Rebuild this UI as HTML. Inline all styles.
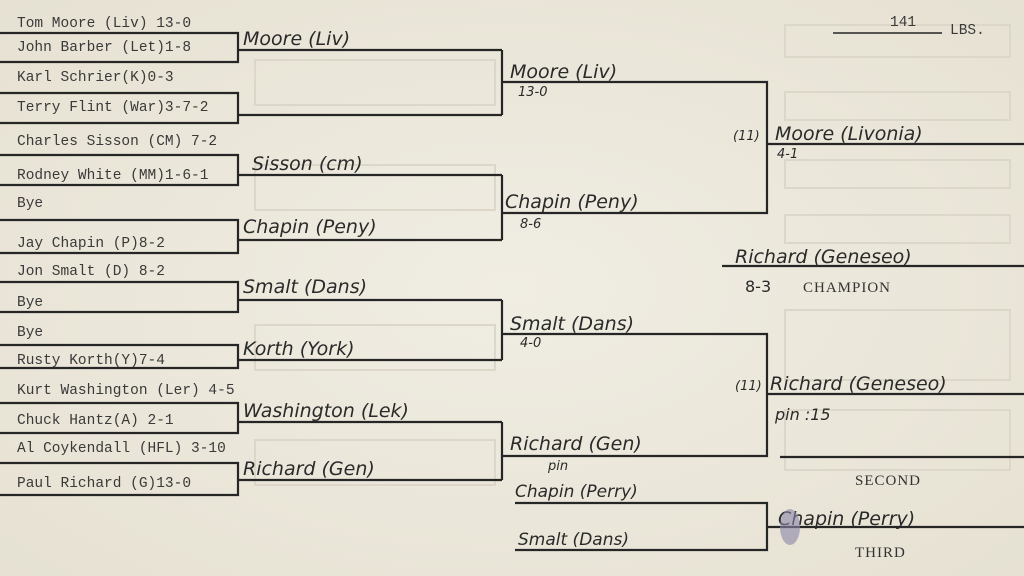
<!DOCTYPE html>
<html><head><meta charset="utf-8"><style>
body{margin:0;width:1024px;height:576px;overflow:hidden;background:#ebe7da;}
svg{position:absolute;left:0;top:0}
.t{font-family:"Liberation Mono",monospace;font-size:14.5px;fill:#3a3a3a}
.h{font-family:"DejaVu Sans",sans-serif;font-style:italic;font-size:19px;fill:#2a2a2a}
.s{font-family:"DejaVu Sans",sans-serif;font-style:italic;font-size:13px;fill:#2a2a2a}
.c{font-family:"Liberation Serif",serif;font-size:15px;fill:#333;letter-spacing:1px}
</style></head><body>
<svg width="1024" height="576" viewBox="0 0 1024 576">
<radialGradient id="g" cx="50%" cy="50%" r="70%"><stop offset="0" stop-color="#f0ede3"/><stop offset="1" stop-color="#e6e1d2"/></radialGradient>
<rect width="1024" height="576" fill="url(#g)"/>
<g fill="none" stroke="#dcd7c9" stroke-width="2">
<rect x="255" y="60" width="240" height="45"/><rect x="255" y="165" width="240" height="45"/>
<rect x="255" y="325" width="240" height="45"/><rect x="255" y="440" width="240" height="45"/>
<rect x="785" y="25" width="225" height="32"/><rect x="785" y="92" width="225" height="28"/>
<rect x="785" y="160" width="225" height="28"/><rect x="785" y="215" width="225" height="28"/>
<rect x="785" y="310" width="225" height="70"/><rect x="785" y="410" width="225" height="60"/>
</g>
<g stroke="#262626" stroke-width="2.2" fill="none">
<path d="M0 33H238V62H0M238 50H502"/>
<path d="M0 93H238V123H0M238 115H502M502 50V115"/>
<path d="M0 155H238V185H0M238 175H502"/>
<path d="M0 220H238V253H0M238 240H502M502 175V240"/>
<path d="M0 282H238V312H0M238 300H502"/>
<path d="M0 345H238V368H0M238 360H502M502 300V360"/>
<path d="M0 403H238V433H0M238 422H502"/>
<path d="M0 463H238V495H0M238 480H502M502 422V480"/>
<path d="M502 82H767V213H502M767 144H1024"/>
<path d="M502 334H767V456H502M767 394H1024"/>
<path d="M722 266H1024M780 457H1024"/>
<path d="M515 503H767V550H515M767 527H1024"/>
<path d="M833 33H942" stroke-width="1.5"/>
</g>
<g class="t">
<text x="17" y="27">Tom Moore (Liv) 13-0</text>
<text x="17" y="51">John Barber (Let)1-8</text>
<text x="17" y="81">Karl Schrier(K)0-3</text>
<text x="17" y="111">Terry Flint (War)3-7-2</text>
<text x="17" y="145">Charles Sisson (CM) 7-2</text>
<text x="17" y="179">Rodney White (MM)1-6-1</text>
<text x="17" y="207">Bye</text>
<text x="17" y="247">Jay Chapin (P)8-2</text>
<text x="17" y="275">Jon Smalt (D) 8-2</text>
<text x="17" y="306">Bye</text>
<text x="17" y="336">Bye</text>
<text x="17" y="364">Rusty Korth(Y)7-4</text>
<text x="17" y="394">Kurt Washington (Ler) 4-5</text>
<text x="17" y="424">Chuck Hantz(A) 2-1</text>
<text x="17" y="452">Al Coykendall (HFL) 3-10</text>
<text x="17" y="487">Paul Richard (G)13-0</text>
<text x="890" y="26">141</text><text x="950" y="34">LBS.</text>
</g>
<g class="h">
<text x="243" y="45">Moore (Liv)</text>
<text x="252" y="170">Sisson (cm)</text>
<text x="243" y="233">Chapin (Peny)</text>
<text x="243" y="293">Smalt (Dans)</text>
<text x="243" y="355">Korth (York)</text>
<text x="243" y="417">Washington (Lek)</text>
<text x="243" y="475">Richard (Gen)</text>
<text x="510" y="78">Moore (Liv)</text>
<text x="505" y="208">Chapin (Peny)</text>
<text x="510" y="330">Smalt (Dans)</text>
<text x="510" y="450">Richard (Gen)</text>
<text x="515" y="497" font-size="17">Chapin (Perry)</text>
<text x="518" y="545" font-size="17">Smalt (Dans)</text>
<text x="775" y="140">Moore (Livonia)</text>
<text x="735" y="263">Richard (Geneseo)</text>
<text x="770" y="390">Richard (Geneseo)</text>
<text x="778" y="525">Chapin (Perry)</text>
</g>
<g class="s">
<text x="518" y="96">13-0</text><text x="520" y="228">8-6</text>
<text x="520" y="347">4-0</text><text x="548" y="470">pin</text>
<text x="733" y="140">(11)</text><text x="777" y="158">4-1</text>
<text x="735" y="390">(11)</text><text x="775" y="420" font-size="16">pin :15</text>
<text x="745" y="292" font-size="16" font-style="normal">8-3</text>
</g>
<ellipse cx="790" cy="527" rx="10" ry="18" fill="#8a86a8" opacity="0.6"/>
<g class="c">
<text x="803" y="292">CHAMPION</text>
<text x="855" y="485">SECOND</text>
<text x="855" y="557">THIRD</text>
</g>
</svg>
</body></html>
